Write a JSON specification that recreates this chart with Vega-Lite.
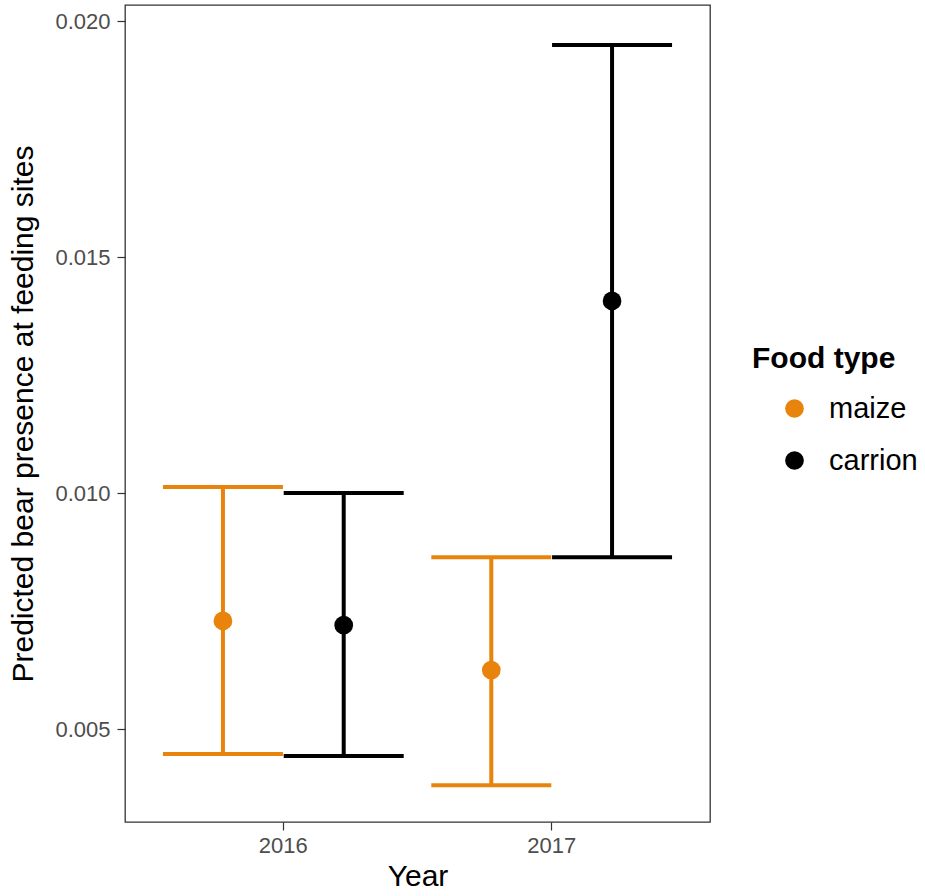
{
  "$schema": "https://vega.github.io/schema/vega-lite/v6.json",
  "width": 585,
  "height": 817,
  "autosize": "none",
  "padding": {"left": 125, "top": 5, "right": 215, "bottom": 74},
  "background": "white",
  "config": {
    "font": "Liberation Sans",
    "view": {"stroke": "#333333", "strokeWidth": 1.3},
    "axis": {
      "domain": false,
      "grid": false,
      "ticks": true,
      "tickColor": "#333333",
      "tickSize": 8,
      "tickWidth": 1.2,
      "labelColor": "#4d4d4d",
      "labelFontSize": 22,
      "labelPadding": 7,
      "titleColor": "black",
      "titleFontSize": 30,
      "titleFontWeight": "normal"
    }
  },
  "data": {
    "values": [
      {"year": "2016", "food": "maize", "est": 0.00729, "lo": 0.00447, "hi": 0.01013},
      {"year": "2016", "food": "carrion", "est": 0.00720, "lo": 0.00443, "hi": 0.01000},
      {"year": "2017", "food": "maize", "est": 0.00625, "lo": 0.00381, "hi": 0.00864},
      {"year": "2017", "food": "carrion", "est": 0.01407, "lo": 0.00864, "hi": 0.01949}
    ]
  },
  "encoding": {
    "x": {
      "field": "year",
      "type": "nominal",
      "scale": {"paddingInner": 0.1, "paddingOuter": 0.14},
      "axis": {"title": "Year", "labelAngle": 0, "labelPadding": 5, "titlePadding": 5}
    },
    "xOffset": {
      "field": "food",
      "type": "nominal",
      "sort": ["maize", "carrion"],
      "scale": {"paddingInner": 0, "paddingOuter": 0}
    },
    "color": {
      "field": "food",
      "type": "nominal",
      "sort": ["maize", "carrion"],
      "scale": {"domain": ["maize", "carrion"], "range": ["#E8830C", "#000000"]},
      "legend": {
        "title": "Food type",
        "orient": "none",
        "legendX": 627,
        "legendY": 339,
        "titleFontSize": 30,
        "titleFontWeight": "bold",
        "titleColor": "black",
        "titlePadding": 20,
        "labelFontSize": 29,
        "labelColor": "black",
        "labelOffset": 20,
        "symbolType": "circle",
        "symbolSize": 350,
        "symbolOffset": 28,
        "symbolOpacity": 1,
        "symbolStrokeWidth": 0,
        "rowPadding": 22,
        "padding": 0,
        "offset": 0
      }
    }
  },
  "layer": [
    {
      "mark": {"type": "rule", "strokeWidth": 4},
      "encoding": {
        "y": {
          "field": "lo",
          "type": "quantitative",
          "scale": {"domain": [0.00303, 0.02034], "nice": false, "zero": false},
          "axis": {
            "title": "Predicted bear presence at feeding sites",
            "values": [0.005, 0.010, 0.015, 0.020],
            "format": ".3f",
            "titlePadding": 16
          }
        },
        "y2": {"field": "hi"}
      }
    },
    {
      "mark": {"type": "tick", "size": 120, "thickness": 4, "opacity": 1},
      "encoding": {"y": {"field": "lo", "type": "quantitative"}}
    },
    {
      "mark": {"type": "tick", "size": 120, "thickness": 4, "opacity": 1},
      "encoding": {"y": {"field": "hi", "type": "quantitative"}}
    },
    {
      "mark": {"type": "point", "filled": true, "opacity": 1, "size": 350, "shape": "circle"},
      "encoding": {"y": {"field": "est", "type": "quantitative"}}
    }
  ]
}
